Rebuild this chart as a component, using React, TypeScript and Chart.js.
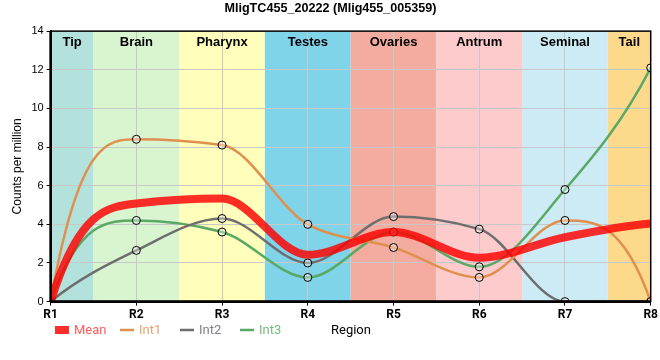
import React, { useEffect, useRef } from "react";
import { Chart, registerables } from "chart.js";

Chart.register(...registerables);

const regions = ["R1", "R2", "R3", "R4", "R5", "R6", "R7", "R8"];
const meanValues = [0, 5.08, 5.33, 2.42, 3.6, 2.27, 3.33, 4.04];
const int1Values = [0, 8.4, 8.1, 4.0, 2.8, 1.25, 4.2, 0];
const int2Values = [0, 2.65, 4.3, 2.0, 4.4, 3.75, 0, 0];
const int3Values = [0, 4.2, 3.6, 1.25, 3.6, 1.8, 5.8, 12.1];
const bandNames = ["Tip", "Brain", "Pharynx", "Testes", "Ovaries", "Antrum", "Seminal", "Tail"];
const bandColors = ["#b3e1dc", "#d8f5d0", "#ffffbb", "#7fd4ea", "#f4aca0", "#fdcbcb", "#cdebf5", "#fdd98b"];
const yTicks = [0, 2, 4, 6, 8, 10, 12, 14];
const legendX = [55, 120, 180, 240];

const ARIAL = "Arial, 'Liberation Sans', sans-serif";
const ROBOTO = "Roboto, Arial, sans-serif";

function sign(v: number) {
  return v < 0 ? -1 : 1;
}
// monotone interior tangents, steep (zero-curvature at inner node) end tangents
const smoothPlugin = {
  id: "smoothCurve",
  beforeDatasetDraw(chart: any, args: any) {
    const meta = args.meta;
    if (!meta || !meta.dataset) return;
    meta.dataset.updateControlPoints(chart.chartArea, "x");
    const pts = meta.data;
    const n = pts.length;
    if (n < 3) return;
    const t: number[] = new Array(n).fill(0);
    for (let i = 1; i < n - 1; i++) {
      const h0 = pts[i].x - pts[i - 1].x;
      const h1 = pts[i + 1].x - pts[i].x;
      const s0 = (pts[i].y - pts[i - 1].y) / h0;
      const s1 = (pts[i + 1].y - pts[i].y) / h1;
      const p = (s0 * h1 + s1 * h0) / (h0 + h1);
      t[i] = (sign(s0) + sign(s1)) * Math.min(Math.abs(s0), Math.abs(s1), 0.5 * Math.abs(p)) || 0;
    }
    const sA = (pts[1].y - pts[0].y) / (pts[1].x - pts[0].x);
    t[0] = 3 * sA - 2 * t[1];
    const sB = (pts[n - 1].y - pts[n - 2].y) / (pts[n - 1].x - pts[n - 2].x);
    t[n - 1] = 3 * sB - 2 * t[n - 2];
    for (let i = 0; i < n; i++) {
      const pt = pts[i];
      if (i > 0) {
        const dx = (pt.x - pts[i - 1].x) / 3;
        pt.cp1x = pt.x - dx;
        pt.cp1y = pt.y - dx * t[i];
      } else {
        pt.cp1x = pt.x;
        pt.cp1y = pt.y;
      }
      if (i < n - 1) {
        const dx = (pts[i + 1].x - pt.x) / 3;
        pt.cp2x = pt.x + dx;
        pt.cp2y = pt.y + dx * t[i];
      } else {
        pt.cp2x = pt.x;
        pt.cp2y = pt.y;
      }
    }
  },
};

const bandsPlugin = {
  id: "bands",
  beforeDraw(chart: any) {
    const { ctx, chartArea, scales } = chart;
    const x = scales.x;
    ctx.save();
    bandNames.forEach((name, i) => {
      const l = Math.max(chartArea.left, x.getPixelForValue(i - 0.5));
      const r = Math.min(chartArea.right, x.getPixelForValue(i + 0.5));
      ctx.fillStyle = bandColors[i];
      ctx.fillRect(l, chartArea.top, r - l, chartArea.bottom - chartArea.top);
    });
    ctx.restore();
  },
  afterDatasetsDraw(chart: any) {
    const { ctx, chartArea, scales } = chart;
    const x = scales.x;
    ctx.save();
    ctx.fillStyle = "#000";
    ctx.font = "bold 13px " + ARIAL;
    ctx.textAlign = "center";
    ctx.textBaseline = "middle";
    bandNames.forEach((name, i) => {
      const l = Math.max(chartArea.left, x.getPixelForValue(i - 0.5));
      const r = Math.min(chartArea.right, x.getPixelForValue(i + 0.5));
      ctx.fillText(name, (l + r) / 2, chartArea.top + 11);
    });
    ctx.strokeStyle = "#000";
    ctx.lineWidth = 1.5;
    ctx.strokeRect(chartArea.left, chartArea.top, chartArea.right - chartArea.left, chartArea.bottom - chartArea.top);
    ctx.lineWidth = 2.5;
    ctx.beginPath();
    ctx.moveTo(chartArea.left, chartArea.bottom);
    ctx.lineTo(chartArea.right, chartArea.bottom);
    ctx.moveTo(chartArea.left, chartArea.top);
    ctx.lineTo(chartArea.left, chartArea.bottom);
    ctx.stroke();

    const ly = 330;
    ctx.font = "13px " + ROBOTO;
    ctx.textAlign = "left";
    chart.data.datasets.forEach((ds: any, i: number) => {
      const x0 = legendX[i];
      ctx.strokeStyle = ds.borderColor;
      ctx.lineWidth = ds.borderWidth;
      ctx.beginPath();
      ctx.moveTo(x0, ly);
      ctx.lineTo(x0 + 14, ly);
      ctx.stroke();
      ctx.fillStyle = ds.legendTextColor;
      ctx.fillText(ds.label, x0 + 19, ly + 1);
    });
    ctx.fillStyle = "#000";
    ctx.fillText("Region", 331, ly + 1);
    ctx.restore();
  },
};

export default function App() {
  const ref = useRef<HTMLCanvasElement>(null);
  useEffect(() => {
    if (!ref.current) return;
    const mk = (arr: number[]) => arr.map((v, i) => ({ x: i, y: v }));
    const pointStyle = {
      pointRadius: 4,
      pointBackgroundColor: "rgba(255,255,255,0.35)",
      pointBorderColor: "#000",
      pointBorderWidth: 1,
    };
    const chart = new Chart(ref.current, {
      type: "line",
      data: {
        datasets: [
          {
            label: "Mean",
            data: mk(meanValues),
            borderColor: "rgba(255,0,0,0.82)",
            backgroundColor: "rgba(255,0,0,0.82)",
            legendTextColor: "#ff5a5a",
            borderWidth: 8,
            pointRadius: 0,
            cubicInterpolationMode: "monotone",
          },
          {
            label: "Int1",
            data: mk(int1Values),
            borderColor: "#e0904e",
            backgroundColor: "#e0904e",
            legendTextColor: "#e8a070",
            borderWidth: 2.5,
            cubicInterpolationMode: "monotone",
            ...pointStyle,
          },
          {
            label: "Int2",
            data: mk(int2Values),
            borderColor: "#6e6e6e",
            backgroundColor: "#6e6e6e",
            legendTextColor: "#80808e",
            borderWidth: 2.5,
            cubicInterpolationMode: "monotone",
            ...pointStyle,
          },
          {
            label: "Int3",
            data: mk(int3Values),
            borderColor: "#5aa865",
            backgroundColor: "#5aa865",
            legendTextColor: "#78b880",
            borderWidth: 2.5,
            cubicInterpolationMode: "monotone",
            ...pointStyle,
          },
        ],
      },
      options: {
        animation: false,
        responsive: false,
        layout: { padding: { left: 10, right: 9, top: 0, bottom: 36 } },
        plugins: {
          title: {
            display: true,
            text: "MligTC455_20222 (Mlig455_005359)",
            color: "#000",
            font: { family: ARIAL, size: 12.6, weight: "bold" },
            padding: { top: 1, bottom: 15 },
          },
          legend: { display: false },
          tooltip: { enabled: false },
        },
        scales: {
          x: {
            type: "linear",
            min: 0,
            max: 7,
            afterBuildTicks(axis: any) {
              axis.ticks = regions.map((_, i) => ({ value: i }));
            },
            ticks: {
              callback: (v: any) => regions[v],
              color: "#000",
              font: { family: ROBOTO, size: 12, weight: "bold" },
              maxRotation: 0,
              padding: 2,
            },
            grid: { color: "#c8c8c8", drawTicks: true, tickLength: 4, tickColor: "#000" },
            border: { color: "#000", width: 2 },
          },
          y: {
            min: 0,
            max: 14,
            afterBuildTicks(axis: any) {
              axis.ticks = yTicks.map((v) => ({ value: v }));
            },
            ticks: {
              color: "#000",
              font: { family: ARIAL, size: 11 },
              padding: 3,
            },
            grid: { color: "#c8c8c8", drawTicks: true, tickLength: 4, tickColor: "#000" },
            border: { color: "#000", width: 2 },
            title: {
              display: true,
              text: "Counts per million",
              color: "#000",
              font: { family: ARIAL, size: 12 },
              padding: { top: 0, bottom: 4 },
            },
          },
        },
      },
      plugins: [bandsPlugin, smoothPlugin],
    } as any);
    return () => chart.destroy();
  }, []);
  return (
    <div style={{ position: "fixed", left: 0, top: 0, width: 660, height: 360 }}>
      <canvas ref={ref} width={660} height={360} style={{ width: 660, height: 360 }} />
    </div>
  );
}
